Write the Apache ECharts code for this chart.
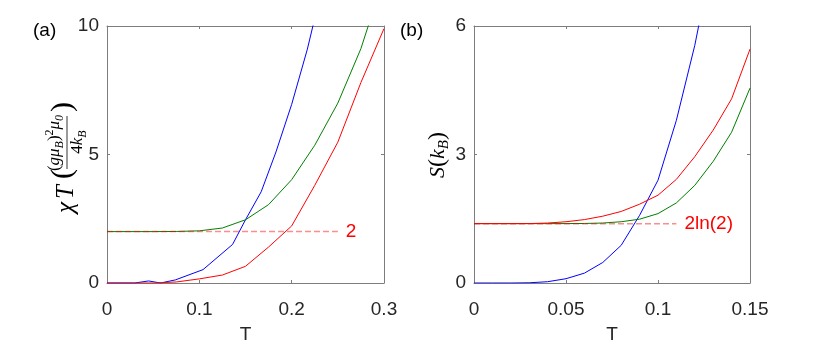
<!DOCTYPE html>
<html>
<head>
<meta charset="utf-8">
<script src="https://cdn.jsdelivr.net/npm/echarts@6/dist/echarts.min.js"></script>
<style>
  html, body { margin: 0; padding: 0; background: #fff; }
  #chart { width: 830px; height: 346px; }
</style>
</head>
<body>
<div id="chart"></div>
<script>
// (a) chi*T vs T
var tBlueA  = [0, 0.03, 0.045, 0.058, 0.074, 0.104, 0.136, 0.15, 0.167, 0.183, 0.2, 0.217, 0.233];
var chiBlue = [0, 0, 0.08, 0, 0.12, 0.52, 1.5, 2.46, 3.55, 5.1, 6.95, 9.1, 11.5];
var tA      = [0, 0.025, 0.05, 0.075, 0.1, 0.125, 0.15, 0.175, 0.2, 0.225, 0.25, 0.275, 0.3];
var chiGreen = [2, 2, 2, 2.005, 2.03, 2.14, 2.46, 3.05, 4.02, 5.36, 7.0, 9.12, 11.9];
var chiRed   = [0, 0, 0, 0.04, 0.16, 0.31, 0.65, 1.4, 2.22, 3.8, 5.48, 7.8, 9.9];
var chiLimitT = [0, 0.25];
var chiLimit  = [2, 2];

// (b) S vs T
var tB     = [0, 0.01, 0.02, 0.03, 0.04, 0.05, 0.06, 0.07, 0.08, 0.09, 0.1, 0.11, 0.12, 0.13, 0.14, 0.15];
var sBlue  = [0, 0, 0, 0.005, 0.03, 0.1, 0.23, 0.48, 0.88, 1.58, 2.4, 3.8, 5.55, 7.7, 10.5, 14];
var sRed   = [1.386, 1.386, 1.386, 1.387, 1.4, 1.43, 1.48, 1.56, 1.67, 1.84, 2.05, 2.42, 2.95, 3.57, 4.3, 5.46];
var sGreen = [1.386, 1.386, 1.386, 1.386, 1.386, 1.387, 1.39, 1.4, 1.43, 1.49, 1.62, 1.87, 2.28, 2.84, 3.52, 4.55];
var sLimitT = [0, 0.11];
var sLimit  = [1.386, 1.386];

var xTicksA = { min: 0, max: 0.3, interval: 0.1 };
var yTicksA = { min: 0, max: 10, interval: 5 };
var xTicksB = { min: 0, max: 0.15, interval: 0.05 };
var yTicksB = { min: 0, max: 6, interval: 3 };

function zip(xs, ys) {
    var out = [];
    for (var i = 0; i < xs.length; i++) out.push([xs[i], ys[i]]);
    return out;
}

var AXIS_COLOR = '#7d7d7d';
var LABEL_FONT = '"Liberation Sans", Arial, sans-serif';

// one axis of the box; labelled ones carry the tick labels, the others only ticks
function boxAxis(type, grid, pos, ticks, labelled, extra) {
    var ax = {
        type: 'value',
        gridIndex: grid,
        position: pos,
        min: ticks.min,
        max: ticks.max,
        interval: ticks.interval,
        splitLine: { show: false },
        axisLine: { show: true, onZero: false, lineStyle: { color: AXIS_COLOR, width: 1 } },
        axisTick: { show: true, inside: true, length: 3, lineStyle: { color: AXIS_COLOR } },
        axisLabel: {
            show: labelled,
            color: '#262626',
            fontSize: 19,
            fontFamily: LABEL_FONT,
            margin: type === 'x' ? 17 : 8
        }
    };
    for (var k in extra) ax[k] = extra[k];
    return ax;
}

function curve(name, color, xi, yi, data) {
    return {
        name: name,
        type: 'line',
        xAxisIndex: xi,
        yAxisIndex: yi,
        data: data,
        showSymbol: false,
        lineStyle: { color: color, width: 1 },
        silent: true
    };
}

function limitLine(xi, yi, data, text) {
    return {
        type: 'line',
        xAxisIndex: xi,
        yAxisIndex: yi,
        data: data,
        showSymbol: false,
        lineStyle: { color: 'rgba(255,0,0,0.45)', width: 1.5, type: [6, 3] },
        endLabel: { show: true, formatter: text, color: '#ff0000', fontSize: 19, fontFamily: LABEL_FONT, distance: 8 },
        silent: true
    };
}

var MATH = '"Liberation Serif", "DejaVu Serif", serif';
var mathRich = {
    m: { fontFamily: MATH, fontStyle: 'italic', fontSize: 17, lineHeight: 22, verticalAlign: 'middle', fill: '#000' },
    r: { fontFamily: MATH, fontSize: 17, lineHeight: 22, verticalAlign: 'middle', fill: '#000' },
    s: { fontFamily: MATH, fontStyle: 'italic', fontSize: 12, lineHeight: 22, verticalAlign: 'bottom', fill: '#000' },
    u: { fontFamily: MATH, fontSize: 12, lineHeight: 22, verticalAlign: 'top', fill: '#000' }
};

var option = {
    animation: false,
    backgroundColor: '#fff',
    grid: [
        { left: 107, top: 26, width: 277, height: 257, outerBoundsMode: 'none' },
        { left: 474, top: 26, width: 276, height: 257, outerBoundsMode: 'none' }
    ],
    xAxis: [
        boxAxis('x', 0, 'bottom', xTicksA, true, {
            name: 'T', nameLocation: 'middle', nameGap: 42,
            nameTextStyle: { color: '#262626', fontSize: 19, fontFamily: LABEL_FONT }
        }),
        boxAxis('x', 0, 'top', xTicksA, false, {}),
        boxAxis('x', 1, 'bottom', xTicksB, true, {
            name: 'T', nameLocation: 'middle', nameGap: 42,
            nameTextStyle: { color: '#262626', fontSize: 19, fontFamily: LABEL_FONT }
        }),
        boxAxis('x', 1, 'top', xTicksB, false, {})
    ],
    yAxis: [
        boxAxis('y', 0, 'left', yTicksA, true, {}),
        boxAxis('y', 0, 'right', yTicksA, false, {}),
        boxAxis('y', 1, 'left', yTicksB, true, {}),
        boxAxis('y', 1, 'right', yTicksB, false, {})
    ],
    series: [
        curve('blue', '#0000ff', 0, 0, zip(tBlueA, chiBlue)),
        curve('green', '#008000', 0, 0, zip(tA, chiGreen)),
        curve('red', '#ff0000', 0, 0, zip(tA, chiRed)),
        limitLine(0, 0, zip(chiLimitT, chiLimit), '2'),
        curve('blue', '#0000ff', 2, 2, zip(tB, sBlue)),
        curve('green', '#008000', 2, 2, zip(tB, sGreen)),
        curve('red', '#ff0000', 2, 2, zip(tB, sRed)),
        limitLine(2, 2, zip(sLimitT, sLimit), '2ln(2)')
    ],
    graphic: [
        { type: 'text', left: 33, top: 21, style: { text: '(a)', font: '19px ' + LABEL_FONT, fill: '#000' } },
        { type: 'text', left: 400, top: 21, style: { text: '(b)', font: '19px ' + LABEL_FONT, fill: '#000' } },
        // chi T ((g mu_B)^2 mu_0 / 4 k_B), drawn rotated
        {
            type: 'group', x: 67, y: 154, rotation: Math.PI / 2,
            children: [
                { type: 'text', x: -59, y: -1, style: { text: 'χ', font: 'italic 25px ' + MATH, fill: '#000', verticalAlign: 'middle' } },
                { type: 'text', x: -45, y: -1, style: { text: 'T', font: 'italic 25px ' + MATH, fill: '#000', verticalAlign: 'middle' } },
                { type: 'text', x: -25, y: -4, style: { text: '(', font: '30px ' + MATH, fill: '#000', verticalAlign: 'middle' } },
                { type: 'text', x: 11, y: -1, style: { text: '{r|(}{m|gμ}{s|B}{r|)}{u|2}{m|μ}{s|0}', rich: mathRich, align: 'center', verticalAlign: 'bottom' } },
                { type: 'line', shape: { x1: -15, y1: 0, x2: 38, y2: 0 }, style: { stroke: '#000', lineWidth: 0.8 } },
                { type: 'text', x: 12, y: 0, style: { text: '{r|4}{m|k}{s|B}', rich: mathRich, align: 'center', verticalAlign: 'top' } },
                { type: 'text', x: 42, y: -4, style: { text: ')', font: '30px ' + MATH, fill: '#000', verticalAlign: 'middle' } }
            ]
        },
        // S(k_B)
        {
            type: 'text', x: 438, y: 155, rotation: Math.PI / 2,
            style: {
                text: '{m|S}{r|(}{m|k}{s|B}{r|)}',
                align: 'center', verticalAlign: 'middle',
                rich: {
                    m: { fontFamily: MATH, fontStyle: 'italic', fontSize: 22, lineHeight: 28, verticalAlign: 'middle', fill: '#000' },
                    r: { fontFamily: MATH, fontSize: 24, lineHeight: 28, verticalAlign: 'middle', fill: '#000' },
                    s: { fontFamily: MATH, fontStyle: 'italic', fontSize: 15, lineHeight: 28, verticalAlign: 'bottom', fill: '#000' }
                }
            }
        }
    ]
};

var chart = echarts.init(document.getElementById('chart'));
chart.setOption(option);
</script>
</body>
</html>
